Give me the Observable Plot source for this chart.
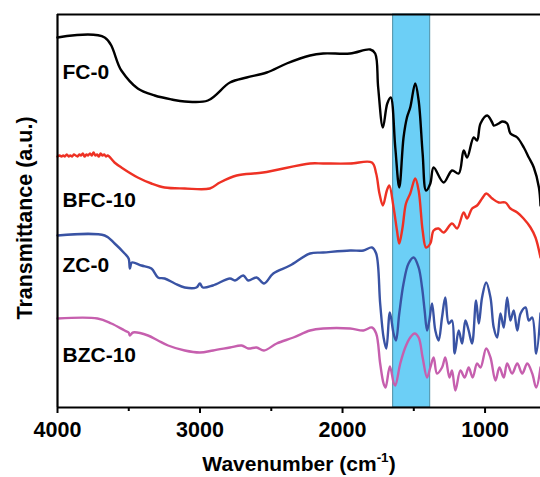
<!DOCTYPE html>
<html>
<head>
<meta charset="utf-8">
<script src="https://cdn.jsdelivr.net/npm/d3@7"></script>
<script src="https://cdn.jsdelivr.net/npm/@observablehq/plot@0.6"></script>
<style>
  html, body { margin: 0; padding: 0; background: #fff; overflow: hidden; }
  #chart svg { display: block; }
</style>
</head>
<body>
<div id="chart"></div>
<script>
// ---- data (wavenumber cm-1, transmittance in arbitrary units) ----
const fc0 = [
  [4000,370],[3669,370],[3552,337],[3437,319],[3318,312],[3198,308],[3107,306],[2945,307],
  [2790,325],[2673,330],[2532,335],[2392,344],[2228,352],[2136,354],[1947,354],[1806,358],
  [1771,354],[1750,320],[1717,280],[1686,304],[1662,310],[1630,260],[1602,220],[1572,270],
  [1548,290],[1525,300],[1490,324],[1466,307],[1438,254],[1414,217],[1384,224],[1361,240],
  [1291,225],[1232,237],[1185,234],[1150,257],[1126,250],[1080,270],[1056,267],[1032,284],
  [985,292],[950,285],[939,282],[904,284],[878,286],[845,284],[822,274],[774,270],[728,260],
  [693,250],[658,240],[622,220],[611,202]
];
const bfc10 = [
  [4000,251],[3985,252],[3972,251],[3960,252],[3948,251],[3935,253],[3922,251],[3910,252],
  [3897,251],[3885,253],[3872,252],[3860,251],[3847,253],[3835,252],[3822,254],[3810,251],
  [3797,253],[3785,252],[3772,254],[3760,252],[3747,255],[3735,252],[3722,253],[3710,251],
  [3697,254],[3685,252],[3672,253],[3660,251],[3648,252],[3600,245],[3552,240],[3437,230],
  [3341,224],[3248,220],[3107,219],[2931,219],[2861,225],[2743,232],[2558,235],[2228,244],
  [2136,244],[1947,244],[1794,245],[1764,234],[1741,214],[1717,202],[1689,217],[1672,222],
  [1642,200],[1618,177],[1602,164],[1579,180],[1555,204],[1525,214],[1490,229],[1466,217],
  [1438,177],[1414,160],[1384,164],[1361,177],[1326,179],[1291,175],[1232,184],[1196,179],
  [1150,195],[1126,189],[1091,199],[1056,202],[1021,209],[992,214],[950,209],[904,205],
  [857,205],[822,199],[774,195],[730,189],[681,180],[646,170],[611,150]
];
const zc0 = [
  [4000,172],[3669,172],[3599,164],[3529,154],[3501,149],[3492,139],[3478,145],[3411,142],
  [3341,139],[3295,130],[3248,129],[3177,124],[3107,120],[3025,120],[3001,124],[2980,120],
  [2910,122],[2790,129],[2755,127],[2697,132],[2662,127],[2603,130],[2551,124],[2486,134],
  [2369,142],[2228,154],[2136,155],[1947,157],[1853,157],[1794,160],[1764,154],[1736,104],
  [1712,70],[1693,59],[1668,95],[1642,74],[1625,67],[1602,94],[1572,124],[1537,144],
  [1501,150],[1466,140],[1442,120],[1424,97],[1407,77],[1391,87],[1372,104],[1349,77],
  [1326,67],[1302,90],[1279,110],[1255,84],[1232,87],[1213,54],[1185,77],[1161,64],
  [1138,87],[1115,77],[1091,64],[1063,107],[1044,84],[1021,110],[992,125],[962,110],
  [939,80],[915,70],[892,94],[869,80],[845,110],[822,87],[799,97],[774,77],[751,94],
  [716,100],[693,87],[669,90],[641,54],[611,94]
];
const bzc10 = [
  [4000,89],[3719,89],[3622,84],[3529,77],[3501,75],[3492,72],[3470,75],[3365,72],[3295,67],
  [3224,62],[3107,57],[3001,55],[2908,57],[2790,60],[2708,62],[2662,59],[2603,60],[2551,57],
  [2462,64],[2345,70],[2228,77],[2136,79],[1947,79],[1853,77],[1794,80],[1764,74],[1736,44],
  [1712,24],[1698,20],[1668,41],[1640,24],[1630,22],[1595,44],[1560,60],[1525,70],[1494,74],
  [1466,70],[1438,50],[1407,30],[1384,40],[1361,50],[1337,34],[1302,40],[1279,50],[1250,30],
  [1232,37],[1208,17],[1173,37],[1143,30],[1115,40],[1087,30],[1056,44],[1032,40],[992,59],
  [962,50],[927,27],[899,40],[869,30],[845,44],[810,34],[774,44],[739,34],[704,44],[669,34],
  [641,20],[611,40]
];
const seriesNames = ["FC-0", "BFC-10", "ZC-0", "BZC-10"];
const seriesColors = ["#000000", "#ee3124", "#3953a4", "#c65fae"];
const labelWn = [3965, 3965, 3965, 3965];
const labelT = [335, 207, 142, 52];
const majorTicks = [4000, 3000, 2000, 1000];
const minorTicks = [3500, 2500, 1500];
const band = [{from: 1645, to: 1385}];
const xDomain = [4000, 611];
const yDomain = [0, 393];

const allSeries = [fc0, bfc10, zc0, bzc10];
const lines = allSeries.flatMap((s, i) => s.map(([wn, t]) => ({wn, t, name: seriesNames[i]})));
const labels = seriesNames.map((name, i) => ({name, wn: labelWn[i], t: labelT[i]}));

const FONT = "'Liberation Sans', Arial, Helvetica, sans-serif";

const plot = Plot.plot({
  width: 540,
  height: 477,
  marginLeft: 57,
  marginRight: 0,
  marginTop: 14,
  marginBottom: 70,
  style: {fontFamily: FONT, background: "#fff", overflow: "visible"},
  x: {domain: xDomain, range: [57, 540]},
  y: {domain: yDomain},
  color: {domain: seriesNames, range: seriesColors},
  marks: [
    Plot.rect(band, {x1: "from", x2: "to", y1: yDomain[0], y2: yDomain[1], fill: "#6ccff6", stroke: "#4d8fa6", strokeWidth: 1}),
    Plot.line(lines, {x: "wn", y: "t", z: "name", stroke: "name", strokeWidth: 2.4, curve: "catmull-rom"}),
    Plot.text(labels, {x: "wn", y: "t", text: "name", textAnchor: "start", fontSize: 21, fontWeight: "bold", fill: "#000"}),
    Plot.ruleY([yDomain[1]], {stroke: "#000", strokeWidth: 2.2}),
    Plot.ruleY([yDomain[0]], {stroke: "#000", strokeWidth: 2.2}),
    Plot.ruleX([xDomain[0]], {stroke: "#000", strokeWidth: 2.2}),
    Plot.axisX({ticks: majorTicks, tickSize: 6, tickPadding: 8, tickFormat: d => String(d), fontSize: 21.5, fontWeight: "bold", label: null, strokeWidth: 2}),
    Plot.axisX({ticks: minorTicks, tickSize: 4, tickFormat: () => "", label: null, strokeWidth: 2}),
    Plot.axisY({ticks: [], label: null})
  ]
});

document.getElementById("chart").appendChild(plot);

const svg = d3.select(plot);
svg.selectAll("g[aria-label='x-axis tick label'] text").attr("font-weight", "bold").attr("fill", "#000");

// x-axis title with superscript
const xt = svg.append("text")
  .attr("x", 299).attr("y", 471)
  .attr("text-anchor", "middle")
  .attr("font-family", FONT).attr("font-weight", "bold").attr("font-size", 21).attr("fill", "#000");
xt.append("tspan").text("Wavenumber (cm");
xt.append("tspan").attr("font-size", 13.5).attr("dy", -9).text("-1");
xt.append("tspan").attr("dy", 9).text(")");

// y-axis title
svg.append("text")
  .attr("transform", "translate(32,218) rotate(-90)")
  .attr("text-anchor", "middle")
  .attr("font-family", FONT).attr("font-weight", "bold").attr("font-size", 21.5).attr("fill", "#000")
  .text("Transmittance (a.u.)");
</script>
</body>
</html>
